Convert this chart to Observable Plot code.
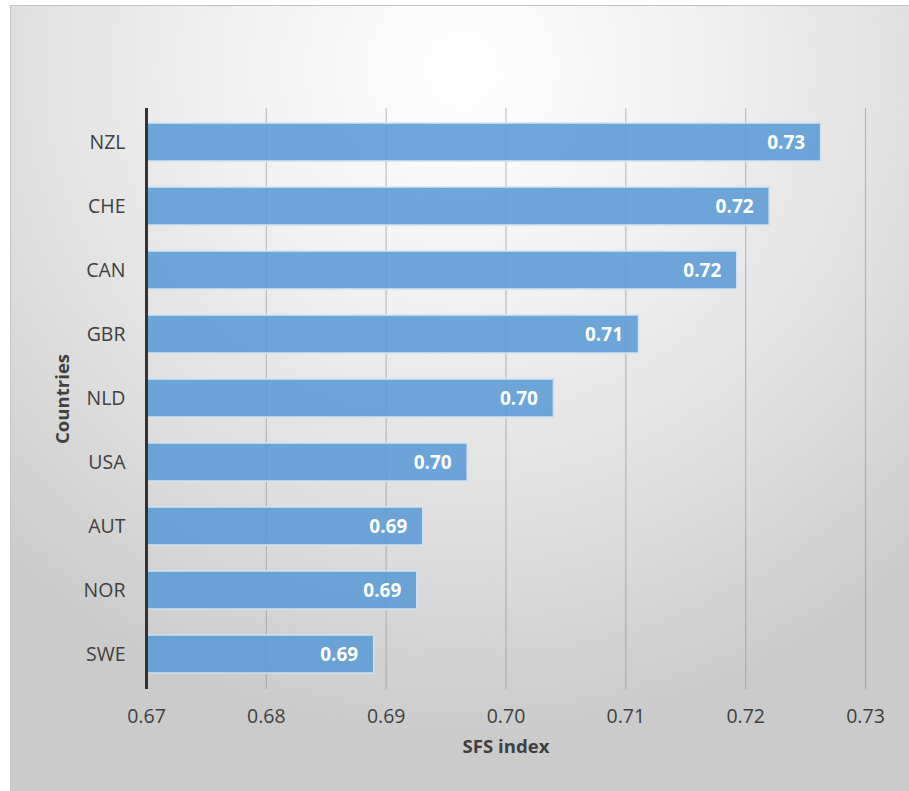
<!DOCTYPE html>
<html>
<head>
<meta charset="utf-8">
<script src="https://cdn.jsdelivr.net/npm/d3@7"></script>
<script src="https://cdn.jsdelivr.net/npm/@observablehq/plot@0.6"></script>
<style>
  html, body { margin: 0; padding: 0; width: 909px; height: 791px; overflow: hidden; background: #ffffff; }
  #frame {
    position: absolute; left: 10px; top: 5px; width: 905px; height: 790px;
    border: 1px solid #c4c4c4; box-sizing: border-box;
    background: radial-gradient(ellipse 75% 85% at 50% 8%, #ffffff 0%, #f1f1f1 35%, #dedede 70%, #cbcbcb 100%);
  }
  #chart { position: absolute; left: 0; top: 0; }
  #chart svg { background: transparent; }
</style>
</head>
<body>
<div id="frame"></div>
<div id="chart"></div>
<script>
const countries = ["NZL", "CHE", "CAN", "GBR", "NLD", "USA", "AUT", "NOR", "SWE"];
const sfsIndex = [0.7263, 0.7220, 0.7193, 0.7111, 0.7040, 0.6968, 0.6931, 0.6926, 0.6890];
const xTicks = [0.67, 0.68, 0.69, 0.70, 0.71, 0.72, 0.73];
const xTitle = "SFS index";
const yTitle = "Countries";

const data = countries.map((c, i) => ({country: c, value: sfsIndex[i]}));
const font = "'Open Sans', sans-serif";
const textColor = "#404040";

const chart = Plot.plot({
  width: 909,
  height: 791,
  marginLeft: 146,
  marginRight: 44,
  marginTop: 108,
  marginBottom: 102,
  style: {background: "transparent", fontFamily: font},
  x: {domain: [0.67, 0.73]},
  y: {domain: countries, paddingInner: 0.4, paddingOuter: 0.18},
  marks: [
    Plot.gridX(xTicks, {stroke: "#8c8c8c", strokeOpacity: 0.5, strokeWidth: 1.2}),
    Plot.barX(data, {
      x1: 0.67, x2: "value", y: "country",
      fill: "#5b9bd5", fillOpacity: 0.88,
      stroke: "#cfe3f5", strokeWidth: 1.5
    }),
    Plot.text(data, {
      x: "value", y: "country", text: d => d3.format(".2f")(d.value),
      dx: -16, textAnchor: "end", fill: "white", fontWeight: "bold",
      fontSize: 19, fontFamily: font
    }),
    Plot.ruleX([0.67], {stroke: "#333333", strokeWidth: 3}),
    Plot.axisX(xTicks, {
      tickFormat: d3.format(".2f"), tickSize: 0, tickPadding: 20,
      fontSize: 19.5, fill: textColor, label: null
    }),
    Plot.axisY({
      tickSize: 0, tickPadding: 21, fontSize: 19.5, fill: textColor, label: null
    }),
    Plot.text([xTitle], {
      frameAnchor: "bottom", dy: 63, text: d => d, fontWeight: "bold",
      fontSize: 18.6, fill: textColor, fontFamily: font
    }),
    Plot.text([yTitle], {
      frameAnchor: "left", dx: -83, rotate: -90, textAnchor: "middle",
      text: d => d, fontWeight: "bold",
      fontSize: 18.6, fill: textColor, fontFamily: font
    })
  ]
});
document.getElementById("chart").appendChild(chart);
</script>
</body>
</html>
